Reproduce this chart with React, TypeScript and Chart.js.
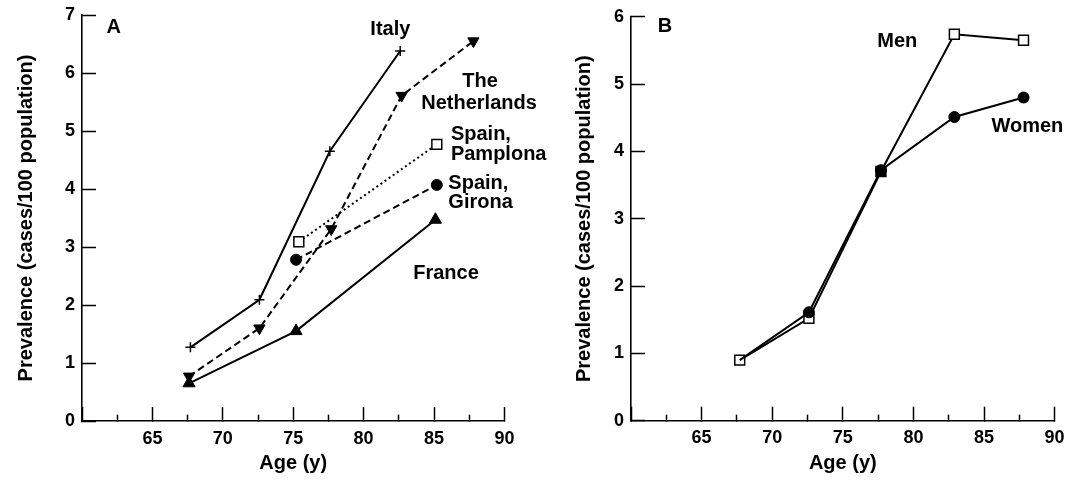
import React, { useEffect, useRef } from "react";
import { Chart, registerables } from "chart.js";

Chart.register(...registerables);

const FONT = '"Liberation Sans", Arial, Helvetica, sans-serif';

// ---------- Panel A data ----------
const italyAge = [67.7, 72.6, 77.6, 82.6];
const italyPrev = [1.27, 2.09, 4.65, 6.38];
const nlAge = [67.6, 72.6, 77.7, 82.7, 87.8];
const nlPrev = [0.77, 1.6, 3.31, 5.61, 6.55];
const pamplonaAge = [75.4, 85.2];
const pamplonaPrev = [3.09, 4.77];
const gironaAge = [75.2, 85.2];
const gironaPrev = [2.78, 4.07];
const franceAge = [67.6, 75.2, 85.1];
const francePrev = [0.65, 1.55, 3.47];

// ---------- Panel B data ----------
const bAge = [67.7, 72.6, 77.7, 82.9, 87.8];
const menPrev = [0.9, 1.52, 3.7, 5.74, 5.65];
const womenPrev = [0.9, 1.61, 3.72, 4.51, 4.8];

// ---------- Axis settings ----------
const xMin = 60;
const xMax = 90;
const xStep = 2.5;
const yMaxA = 7;
const yMaxB = 6;
const xTitle = "Age (y)";
const yTitle = "Prevalence (cases/100 population)";

// ---------- Annotation texts ----------
const notesA = [
  { text: "A", x: 62.25, y: 6.79, align: "center" },
  { text: "Italy", x: 81.9, y: 6.75, align: "center" },
  { text: "The", x: 88.27, y: 5.86, align: "center" },
  { text: "Netherlands", x: 88.2, y: 5.48, align: "center" },
  { text: "Spain,", x: 86.2, y: 4.94, align: "left" },
  { text: "Pamplona", x: 86.2, y: 4.59, align: "left" },
  { text: "Spain,", x: 86.02, y: 4.1, align: "left" },
  { text: "Girona", x: 86.02, y: 3.76, align: "left" },
  { text: "France", x: 85.85, y: 2.54, align: "center" },
];
const notesB = [
  { text: "B", x: 62.41, y: 5.85, align: "center" },
  { text: "Men", x: 78.86, y: 5.63, align: "center" },
  { text: "Women", x: 88.07, y: 4.37, align: "center" },
];

const zip = (xs: number[], ys: number[]) => xs.map((x, i) => ({ x, y: ys[i] }));

const notesPlugin = {
  id: "notes",
  afterDatasetsDraw(chart: any, _args: any, opts: any) {
    const { ctx } = chart;
    const xs = chart.scales.x;
    const ys = chart.scales.y;
    ctx.save();
    ctx.fillStyle = "#000";
    ctx.textBaseline = "middle";
    ctx.font = `bold 20px ${FONT}`;
    for (const n of opts.items || []) {
      ctx.textAlign = n.align;
      ctx.fillText(n.text, xs.getPixelForValue(n.x), ys.getPixelForValue(n.y));
    }
    ctx.restore();
  },
};

const clearPad = (s: any) => {
  s.paddingTop = 0;
  s.paddingBottom = 0;
  s.paddingLeft = 0;
  s.paddingRight = 0;
};

function makeOptions(p: {
  yMax: number;
  yWidth: number;
  xHeight: number;
  padding: any;
  yTitlePad: number;
  notes: any[];
}) {
  return {
    responsive: false,
    animation: false,
    events: [],
    layout: { padding: p.padding },
    plugins: {
      legend: { display: false },
      tooltip: { enabled: false },
      notes: { items: p.notes },
    },
    scales: {
      x: {
        type: "linear",
        min: xMin,
        max: xMax,
        afterFit: (s: any) => {
          s.height = p.xHeight;
          clearPad(s);
        },
        border: { display: true, color: "#000", width: 1.6 },
        grid: {
          drawOnChartArea: false,
          drawTicks: true,
          tickLength: -14,
          tickWidth: 1.5,
          tickColor: "#000",
          tickBorderDash: (c: any) =>
            c.tick && Math.abs(c.tick.value % 5) > 0.01 ? [7, 40] : [],
        },
        ticks: {
          stepSize: xStep,
          autoSkip: false,
          maxRotation: 0,
          padding: 21,
          color: "#000",
          font: { size: 18, weight: "bold", family: FONT },
          callback: (v: any) =>
            Math.abs(v % 5) < 0.01 && v > xMin ? String(v) : "",
        },
        title: {
          display: true,
          text: xTitle,
          color: "#000",
          font: { size: 20, weight: "bold", family: FONT },
          padding: { top: 0, bottom: 6 },
        },
      },
      y: {
        type: "linear",
        min: 0,
        max: p.yMax,
        afterFit: (s: any) => {
          s.width = p.yWidth;
          clearPad(s);
        },
        border: { display: true, color: "#000", width: 1.6 },
        grid: {
          drawOnChartArea: false,
          drawTicks: true,
          tickLength: -14,
          tickWidth: 1.5,
          tickColor: "#000",
        },
        ticks: {
          stepSize: 1,
          padding: 21,
          color: "#000",
          font: { size: 18, weight: "bold", family: FONT },
        },
        title: {
          display: true,
          text: yTitle,
          color: "#000",
          font: { size: 20, weight: "bold", family: FONT },
          padding: { top: p.yTitlePad, bottom: 0 },
        },
      },
    },
  };
}

function ChartCanvas(props: { width: number; left: number; config: () => any }) {
  const ref = useRef<HTMLCanvasElement | null>(null);
  useEffect(() => {
    if (!ref.current) return;
    const chart = new Chart(ref.current, props.config());
    return () => chart.destroy();
  }, []);
  return (
    <canvas
      ref={ref}
      width={props.width}
      height={481}
      style={{ position: "absolute", left: props.left, top: 0, width: props.width, height: 481 }}
    />
  );
}

const configA = () => ({
  type: "line",
  data: {
    datasets: [
      {
        label: "Italy",
        data: zip(italyAge, italyPrev),
        borderColor: "#000",
        borderWidth: 2,
        pointStyle: "cross",
        pointRadius: 5,
        pointBorderWidth: 1.5,
        pointBorderColor: "#000",
        pointBackgroundColor: "#000",
      },
      {
        label: "The Netherlands",
        data: zip(nlAge, nlPrev),
        borderColor: "#000",
        borderWidth: 2,
        borderDash: [7, 4],
        pointStyle: "triangle",
        rotation: 180,
        pointRadius: 6.5,
        pointBorderWidth: 1,
        pointBorderColor: "#000",
        pointBackgroundColor: "#000",
      },
      {
        label: "Spain, Pamplona",
        data: zip(pamplonaAge, pamplonaPrev),
        borderColor: "#000",
        borderWidth: 2,
        borderDash: [2, 3],
        pointStyle: "rect",
        pointRadius: 7,
        pointBorderWidth: 1.5,
        pointBorderColor: "#000",
        pointBackgroundColor: "#fff",
      },
      {
        label: "Spain, Girona",
        data: zip(gironaAge, gironaPrev),
        borderColor: "#000",
        borderWidth: 2,
        borderDash: [7, 4],
        pointStyle: "circle",
        pointRadius: 5.5,
        pointBorderWidth: 1,
        pointBorderColor: "#000",
        pointBackgroundColor: "#000",
      },
      {
        label: "France",
        data: zip(franceAge, francePrev),
        borderColor: "#000",
        borderWidth: 2,
        pointStyle: "triangle",
        pointRadius: 7,
        pointBorderWidth: 1,
        pointBorderColor: "#000",
        pointBackgroundColor: "#000",
      },
    ],
  },
  options: makeOptions({
    yMax: yMaxA,
    yWidth: 82,
    xHeight: 60,
    padding: { left: 0, right: 55.6, top: 15, bottom: 0 },
    yTitlePad: 14,
    notes: notesA,
  }),
  plugins: [notesPlugin],
});

const configB = () => ({
  type: "line",
  data: {
    datasets: [
      {
        label: "Women",
        data: zip(bAge, womenPrev),
        borderColor: "#000",
        borderWidth: 2,
        pointStyle: "circle",
        pointRadius: [0, 5.5, 5.5, 5.5, 5.5],
        pointBorderWidth: 1,
        pointBorderColor: "#000",
        pointBackgroundColor: "#000",
      },
      {
        label: "Men",
        data: zip(bAge, menPrev),
        borderColor: "#000",
        borderWidth: 2,
        pointStyle: "rect",
        pointRadius: 7,
        pointBorderWidth: 1.5,
        pointBorderColor: "#000",
        pointBackgroundColor: ["#fff", "#fff", "#000", "#fff", "#fff"],
      },
    ],
  },
  options: makeOptions({
    yMax: yMaxB,
    yWidth: 91,
    xHeight: 60.3,
    padding: { left: 0, right: 22.4, top: 16.7, bottom: 0 },
    yTitlePad: 32.5,
    notes: notesB,
  }),
  plugins: [notesPlugin],
});

export default function App() {
  return (
    <div
      style={{
        position: "absolute",
        left: 0,
        top: 0,
        width: 1077,
        height: 481,
        background: "#fff",
        overflow: "hidden",
      }}
    >
      <ChartCanvas width={560} left={0} config={configA} />
      <ChartCanvas width={537} left={540} config={configB} />
    </div>
  );
}
